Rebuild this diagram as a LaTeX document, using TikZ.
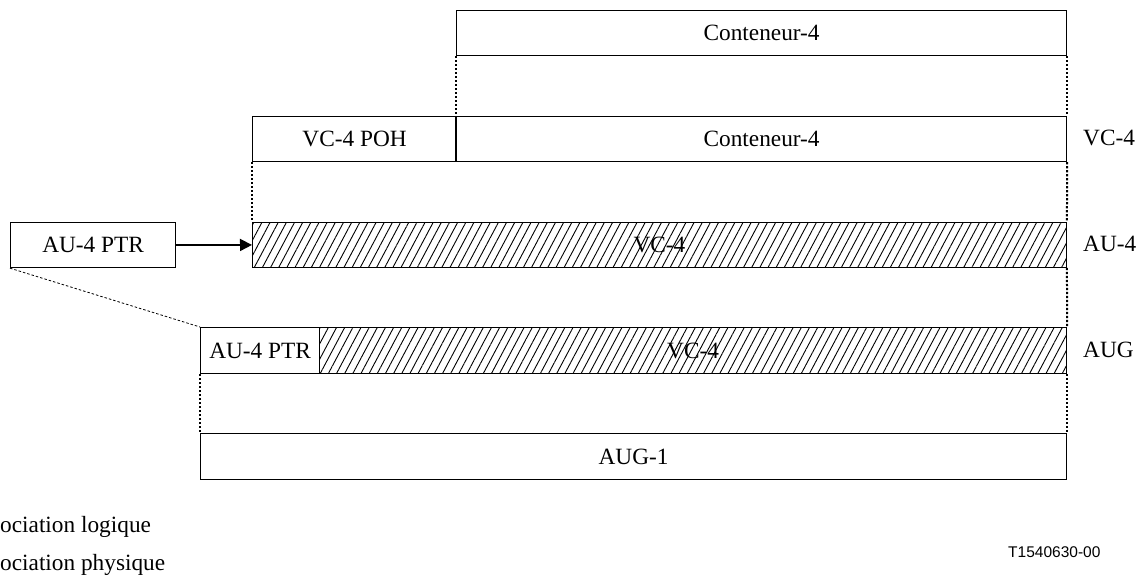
\documentclass[tikz,border=0pt]{standalone}
\usepackage{fontspec}
\setmainfont{Liberation Serif}
\newfontfamily\arialf{Liberation Sans}
\usetikzlibrary{arrows.meta,patterns.meta}
\begin{document}
\begin{tikzpicture}[x=1pt,y=-1pt,
  every node/.style={font=\fontsize{23.3}{27}\selectfont},
  box/.style={draw, line width=1.2pt, rectangle, inner sep=0pt, anchor=north west},
  hatch/.style={box, pattern={Lines[angle=62,distance=7.2pt,line width=0.9pt]}},
  dotline/.style={line width=2pt, dash pattern=on 2.2pt off 1.8pt},
  dashline/.style={line width=0.8pt, dash pattern=on 2.5pt off 2pt},
  lbl/.style={anchor=west, inner sep=0pt}]
\useasboundingbox (0,0) rectangle (1146,577);
% top container
\node[box, minimum width=610pt, minimum height=45pt] (c4top) at (456,10) {Conteneur-4};
% VC-4 row
\node[box, minimum width=204pt, minimum height=45pt] (poh) at (252,116) {VC-4 POH};
\node[box, minimum width=610pt, minimum height=45pt] (c4mid) at (456,116) {Conteneur-4};
\draw[line width=1.8pt] (c4mid.north west) -- (c4mid.south west);
% AU-4 row
\node[hatch, minimum width=814pt, minimum height=45pt] (au4) at (252,222) {VC-4};
\node[box, minimum width=165pt, minimum height=45pt] (ptr) at (10,222) {AU-4 PTR};
% AUG row
\node[box, minimum width=119pt, minimum height=46pt] (augptr) at (200,327) {AU-4 PTR};
\node[hatch, minimum width=747pt, minimum height=46pt] (augh) at (319,327) {VC-4};
% AUG-1
\node[box, minimum width=866pt, minimum height=46pt] (aug1) at (200,433) {AUG-1};
% dotted links
\draw[dotline] (c4top.south west) -- (c4mid.north west);
\draw[dotline] (c4top.south east) -- (c4mid.north east);
\draw[dotline] (poh.south west) -- (au4.north west);
\draw[dotline] (c4mid.south east) -- (au4.north east);
\draw[dotline] (au4.south east) -- (augh.north east);
\draw[dotline] (augptr.south west) -- (aug1.north west);
\draw[dotline] (augh.south east) -- (aug1.north east);
% arrow and dashed
\draw[line width=1.7pt, -{Triangle[length=12pt,width=12pt]}] (ptr.east) -- (au4.west);
\draw[dashline] (ptr.south west) -- (augptr.north west);
% right labels
\node[lbl] (lvc) at (1083,138) {VC-4};
\node[lbl] (lau) at (1083,244) {AU-4};
\node[lbl] (laug) at (1083,350) {AUG};
% legend
\node[anchor=base west, inner sep=0pt] (leg1) at (0,532) {ociation logique};
\node[anchor=base west, inner sep=0pt] (leg2) at (0,570) {ociation physique};
\node[anchor=base west, inner sep=0pt, font=\arialf\fontsize{15.5}{18}\selectfont] (ref) at (1008,557) {T1540630-00};
\end{tikzpicture}
\end{document}
